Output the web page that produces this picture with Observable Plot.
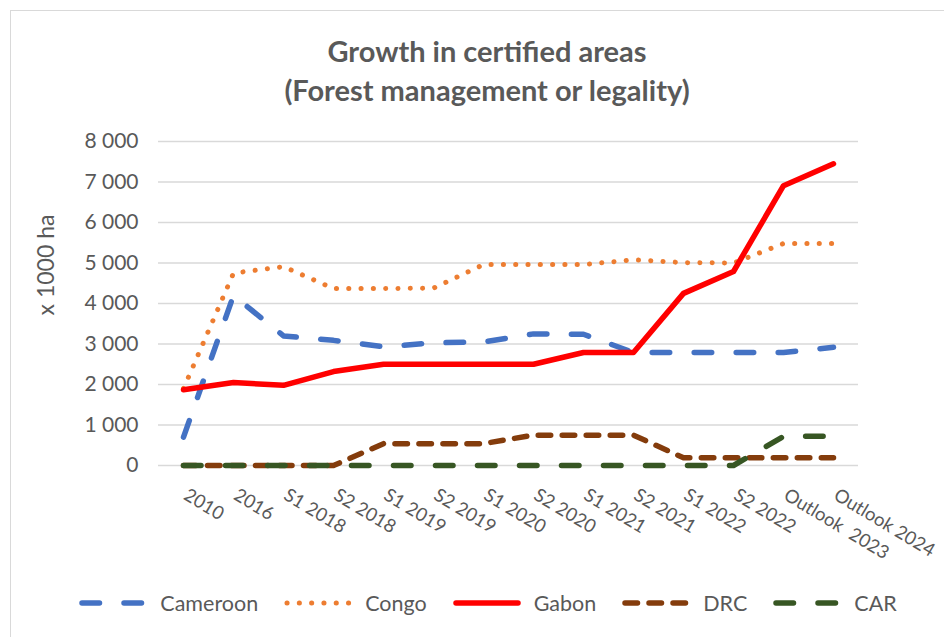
<!DOCTYPE html>
<html>
<head>
<meta charset="utf-8">
<script src="https://cdn.jsdelivr.net/npm/d3@7"></script>
<script src="https://cdn.jsdelivr.net/npm/@observablehq/plot@0.6"></script>
<style>
  html, body { margin: 0; padding: 0; background: #fff; }
  #wrap { position: relative; width: 944px; height: 637px; overflow: hidden; font-family: Lato, sans-serif; color: #595959; }
  #frame { position: absolute; left: 10px; top: 10px; width: 1000px; height: 700px; border-left: 1px solid #d9d9d9; border-top: 1px solid #d9d9d9; box-sizing: border-box; }
  #title { position: absolute; left: 0; width: 974px; top: 31px; text-align: center; font-weight: bold; font-size: 29px; line-height: 39px; color: #595959; }
  #ylabel { position: absolute; left: 45px; top: 265px; transform: translate(-50%, -50%) rotate(-90deg); font-size: 23px; white-space: nowrap; color: #595959; }
  #chart { position: absolute; left: 0; top: 0; }
  #legend { position: absolute; left: 10px; width: 956px; top: 588px; height: 30px; display: flex; justify-content: center; align-items: center; font-size: 21.5px; color: #595959; }
  .item { display: flex; align-items: center; margin: 0 13px; }
  .item svg { margin-right: 13px; }
  svg text.xlab { white-space: pre; }
</style>
</head>
<body>
<div id="wrap">
  <div id="frame"></div>
  <div id="title">Growth in certified areas<br>(Forest management or legality)</div>
  <div id="ylabel">x 1000 ha</div>
  <div id="chart"></div>
  <div id="legend"></div>
</div>
<script>
const categories = ["2010", "2016", "S1 2018", "S2 2018", "S1 2019", "S2 2019", "S1 2020", "S2 2020", "S1 2021", "S2 2021", "S1 2022", "S2 2022", "Outlook  2023", "Outlook 2024"];
const cameroon = [700, 4200, 3200, 3090, 2930, 3030, 3050, 3250, 3240, 2790, 2790, 2790, 2790, 2920];
const congo    = [1900, 4750, 4910, 4370, 4370, 4380, 4960, 4960, 4960, 5080, 5010, 5000, 5480, 5480];
const gabon    = [1870, 2050, 1980, 2320, 2500, 2500, 2500, 2500, 2790, 2790, 4250, 4790, 6910, 7450];
const drc      = [0, 0, 0, 0, 540, 540, 540, 750, 750, 750, 190, 190, 190, 190];
const car      = [0, 0, 0, 0, 0, 0, 0, 0, 0, 0, 0, 0, 720, 720];
const yTicks   = [0, 1000, 2000, 3000, 4000, 5000, 6000, 7000, 8000];

const seriesNames = ["Cameroon", "Congo", "Gabon", "DRC", "CAR"];
const seriesValues = [cameroon, congo, gabon, drc, car];
const styles = {
  Cameroon: {stroke: "#4472C4", strokeWidth: 5.5, strokeDasharray: "17.5,24.5"},
  Congo:    {stroke: "#ED7D31", strokeWidth: 5,   strokeDasharray: "0.1,12.2"},
  Gabon:    {stroke: "#FF0000", strokeWidth: 5.5, strokeDasharray: null},
  DRC:      {stroke: "#843C0C", strokeWidth: 5.5, strokeDasharray: "12.5,11.5"},
  CAR:      {stroke: "#375623", strokeWidth: 5.5, strokeDasharray: "17.5,24.5"}
};

const fmt = d3.formatLocale({decimal: ".", thousands: " ", grouping: [3], currency: ["", ""]}).format(",");

const lineMarks = seriesNames.map((name, i) => {
  const rows = categories.map((c, j) => ({cat: c, value: seriesValues[i][j]}));
  const s = styles[name];
  return Plot.line(rows, {
    x: "cat", y: "value",
    stroke: s.stroke, strokeWidth: s.strokeWidth,
    strokeDasharray: s.strokeDasharray,
    strokeLinecap: "round", strokeLinejoin: "round"
  });
});

const plot = Plot.plot({
  width: 944,
  height: 637,
  marginTop: 141,
  marginBottom: 172,
  marginLeft: 158,
  marginRight: 86,
  style: {fontFamily: "Lato, sans-serif", background: "transparent", overflow: "visible"},
  x: {type: "point", domain: categories, padding: 0.5, axis: null},
  y: {domain: [0, 8000], axis: null},
  marks: [
    Plot.gridY(yTicks, {stroke: "#d9d9d9", strokeOpacity: 1, strokeWidth: 1.5}),
    Plot.axisY(yTicks, {tickSize: 0, tickPadding: 20, fontSize: 21, color: "#595959", tickFormat: fmt, label: null}),
    ...lineMarks,
    Plot.text(categories, {
      x: d => d, text: d => d, frameAnchor: "bottom",
      rotate: 31, textAnchor: "start", lineAnchor: "middle",
      dx: 2, dy: 28, fontSize: 18.5, fill: "#595959", className: "xlab"
    })
  ]
});
document.getElementById("chart").appendChild(plot);

// Legend
const legend = document.getElementById("legend");
seriesNames.forEach(name => {
  const s = styles[name];
  const item = document.createElement("div");
  item.className = "item";
  const ns = "http://www.w3.org/2000/svg";
  const svg = document.createElementNS(ns, "svg");
  svg.setAttribute("width", 68);
  svg.setAttribute("height", 12);
  const ln = document.createElementNS(ns, "line");
  ln.setAttribute("x1", 3); ln.setAttribute("x2", 65);
  ln.setAttribute("y1", 6); ln.setAttribute("y2", 6);
  ln.setAttribute("stroke", s.stroke);
  ln.setAttribute("stroke-width", s.strokeWidth);
  ln.setAttribute("stroke-linecap", "round");
  if (s.strokeDasharray) ln.setAttribute("stroke-dasharray", s.strokeDasharray);
  svg.appendChild(ln);
  item.appendChild(svg);
  const t = document.createElement("span");
  t.textContent = name;
  item.appendChild(t);
  legend.appendChild(item);
});
</script>
</body>
</html>
